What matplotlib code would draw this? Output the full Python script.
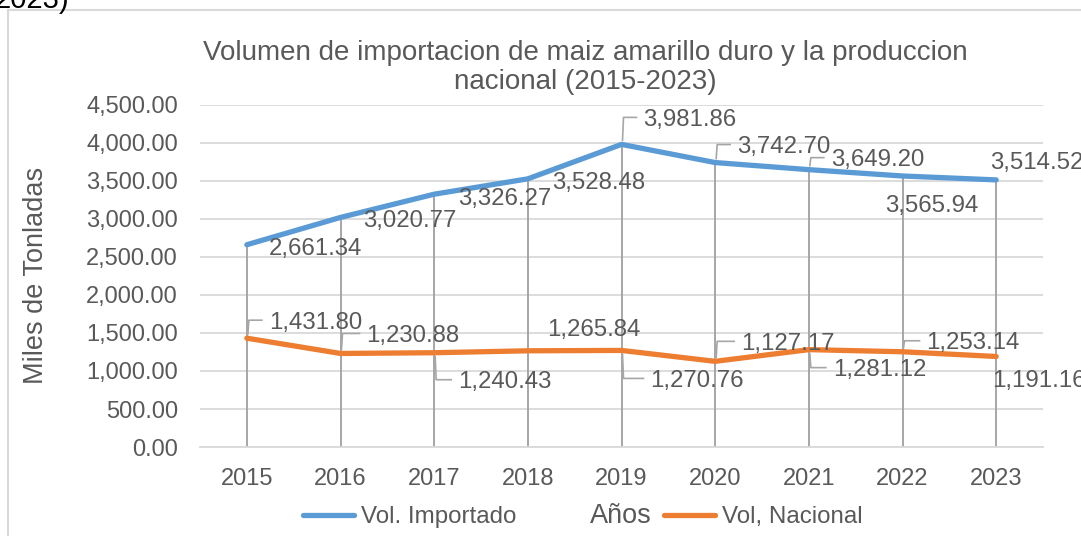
import matplotlib
matplotlib.use("Agg")
import matplotlib.pyplot as plt
from matplotlib.patches import Rectangle
from matplotlib.lines import Line2D
import numpy as np

years = ["2015", "2016", "2017", "2018", "2019", "2020", "2021", "2022", "2023"]
importado = [2661.34, 3020.77, 3326.27, 3528.48, 3981.86, 3742.70, 3649.20, 3565.94, 3514.52]
nacional = [1431.80, 1230.88, 1240.43, 1265.84, 1270.76, 1127.17, 1281.12, 1253.14, 1191.16]
yticks = [0, 500, 1000, 1500, 2000, 2500, 3000, 3500, 4000, 4500]

# label offsets (pixels: dx to label left edge, dy downward to label centre), leader flag
imp_off = [(22, 2, False), (23, 1, False), (24, 2, False), (24, 2, False), (22, -27, True),
           (22, -18, True), (22, -12, True), (-17, 28, False), (-6, -19, False)]
nac_off = [(22, -18, True), (26, -20, True), (24, 27, True), (19, -23, False), (29, 28, True),
           (26, -20, True), (24, 18, True), (24, -11, True), (-4, 22, False)]

W, H = 1081, 536
plt.rcParams['font.family'] = ['Liberation Sans', 'DejaVu Sans']
fig = plt.figure(figsize=(W / 100, H / 100), dpi=100)
TXT = '#595959'
BLUE = '#5b9bd5'
ORANGE = '#ed7d31'
FS = 17

# outer chart border
fig.patches.append(Rectangle((8 / W, -0.05), 1.1, (H - 10) / H + 0.05, transform=fig.transFigure,
                             fill=False, edgecolor='#d9d9d9', lw=1.5))
fig.text(-6 / W, (H - 8) / H, "2023)", fontsize=21, color='black', ha='left', va='baseline')

ax = fig.add_axes([200 / W, (H - 447) / H, 843 / W, 342 / H])
x = np.arange(len(years))
ax.set_xlim(-0.5, len(years) - 0.5)
ax.set_ylim(0, 4500)
ax.set_yticks(yticks)
ax.set_yticklabels([f"{v:,.2f}" for v in yticks])
ax.set_xticks(x)
ax.set_xticklabels(years)
ax.tick_params(axis='both', length=0, labelsize=FS, colors=TXT)
ax.tick_params(axis='y', pad=16)
ax.tick_params(axis='x', pad=15)
ax.grid(axis='y', color='#d9d9d9', lw=1.3)
ax.set_axisbelow(True)
for s in ['top', 'right', 'left']:
    ax.spines[s].set_visible(False)
ax.spines['bottom'].set_color('#d9d9d9')
ax.spines['bottom'].set_linewidth(1.3)

# drop lines
ax.vlines(x, 0, np.maximum(importado, nacional), color='#a6a6a6', lw=1.4, zorder=1)

l1, = ax.plot(x, importado, color=BLUE, lw=3.8, solid_capstyle='round', zorder=3)
l2, = ax.plot(x, nacional, color=ORANGE, lw=3.8, solid_capstyle='round', zorder=3)

fig.canvas.draw()

def add_labels(vals, offs):
    for xi, v, (dx, dy, lead) in zip(x, vals, offs):
        px, py = ax.transData.transform((xi, v))
        lx, ly = px + dx, py - dy
        fig.text(lx / W, ly / H, f"{v:,.2f}", fontsize=17.3, color=TXT, ha='left', va='center_baseline')
        if lead:
            sgn = 1 if ly > py else -1
            xs = [px + 1, px + 2, px + dx - 7]
            ys = [py + sgn * 4, ly, ly]
            fig.lines.append(Line2D(np.array(xs) / W, np.array(ys) / H, transform=fig.transFigure,
                                    color='#a6a6a6', lw=1.2))

add_labels(importado, imp_off)
add_labels(nacional, nac_off)

fig.text(585 / W, (H - 50) / H, "Volumen de importacion de maiz amarillo duro y la produccion",
         fontsize=20, color=TXT, ha='center', va='center_baseline')
fig.text(585 / W, (H - 79) / H, "nacional (2015-2023)", fontsize=20, color=TXT,
         ha='center', va='center_baseline')
fig.text(36 / W, (H - 275) / H, "Miles de Tonladas", fontsize=19.5, color=TXT, rotation=90,
         ha='center', va='center')
fig.text(621 / W, (H - 513) / H, "Años", fontsize=19.5, color=TXT, ha='center', va='center_baseline')

fig.legend([l1, l2], ["Vol. Importado", "Vol, Nacional"], loc='center', ncol=2,
           bbox_to_anchor=(583 / W, (H - 517) / H), frameon=False, fontsize=17.4,
           labelcolor=TXT, handlelength=2.1, handletextpad=0.3, columnspacing=6.1,
           borderpad=0)

fig.savefig("out.png", dpi=100)
